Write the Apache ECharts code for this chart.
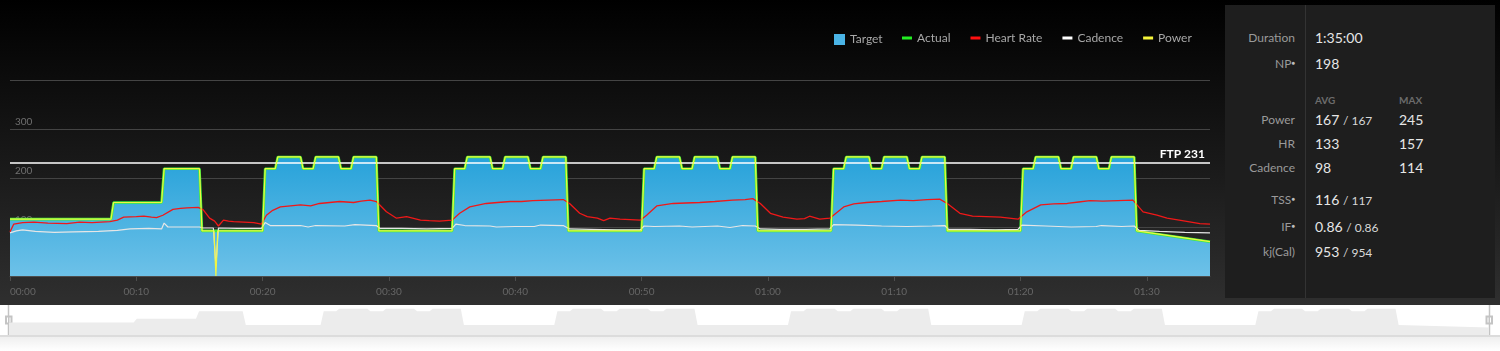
<!DOCTYPE html>
<html>
<head>
<meta charset="utf-8">
<script src="https://cdn.jsdelivr.net/npm/echarts@6.0.0/dist/echarts.min.js"></script>
<style>
  body { margin: 0; width: 1500px; height: 351px; overflow: hidden; background: #fff; font-family: Lato, sans-serif; position: relative; }
  #bg { position: absolute; left: 0; top: 0; width: 1500px; height: 305px; background: linear-gradient(#000, #2f2f2f); }
  #zoomBase { position: absolute; left: 0; top: 335px; width: 1500px; height: 2px; background: #dcdcdc; }
  #zoomShade { position: absolute; left: 0; top: 337px; width: 1500px; height: 14px; background: linear-gradient(#efefef, #fff); }
  #chart { position: absolute; left: 0; top: 0; width: 1500px; height: 351px; }
  #stats { position: absolute; left: 1225px; top: 5px; width: 270px; height: 293px; background: #1e1e1e; }
  #stats .sep { position: absolute; left: 80px; top: 0; width: 1px; height: 293px; background: #333; }
  #stats .lb { position: absolute; right: 200px; font-size: 12px; line-height: 16px; color: #9a9a9a; text-align: right; white-space: nowrap; }
  #stats .v { position: absolute; font-size: 14px; line-height: 16px; color: #e6e6e6; white-space: nowrap; }
  #stats .v small { font-size: 12px; color: #d8d8d8; }
  #stats .hd { position: absolute; font-size: 10px; line-height: 12px; font-weight: bold; color: #6c6c6c; }
  #stats sup { font-size: 6px; vertical-align: top; position: relative; top: -1px; color: #bdbdbd; }
</style>
</head>
<body>
<div id="bg"></div>
<div id="zoomBase"></div>
<div id="zoomShade"></div>
<div id="chart"></div>
<div id="stats">
  <div class="sep"></div>
  <div class="lb" style="top:25px">Duration</div><div class="v" style="left:90px;top:25px">1:35:00</div>
  <div class="lb" style="top:51px">NP<sup>●</sup></div><div class="v" style="left:90px;top:51px">198</div>
  <div class="hd" style="left:90px;top:89px">AVG</div><div class="hd" style="left:174px;top:89px">MAX</div>
  <div class="lb" style="top:107px">Power</div><div class="v" style="left:90px;top:107px">167 <small>/ 167</small></div><div class="v" style="left:174px;top:107px">245</div>
  <div class="lb" style="top:131px">HR</div><div class="v" style="left:90px;top:131px">133</div><div class="v" style="left:174px;top:131px">157</div>
  <div class="lb" style="top:155px">Cadence</div><div class="v" style="left:90px;top:155px">98</div><div class="v" style="left:174px;top:155px">114</div>
  <div class="lb" style="top:187px">TSS<sup>●</sup></div><div class="v" style="left:90px;top:187px">116 <small>/ 117</small></div>
  <div class="lb" style="top:214px">IF<sup>●</sup></div><div class="v" style="left:90px;top:214px">0.86 <small>/ 0.86</small></div>
  <div class="lb" style="top:239px">kj(Cal)</div><div class="v" style="left:90px;top:239px">953 <small>/ 954</small></div>
</div>
<script type="text/javascript">
  // 目标功率：每段开始分钟 + 瓦数
  const targetMin = [0, 8, 12, 15, 20, 21, 23, 24, 26, 27, 29, 35, 36, 38, 39, 41, 42, 44, 50, 51, 53, 54, 56, 57, 59, 65, 66, 68, 69, 71, 72, 74, 80, 81, 83, 84, 86, 87, 89]
  const targetW = [116, 150, 219, 92, 219, 243, 219, 243, 219, 243, 92, 219, 243, 219, 243, 219, 243, 92, 219, 243, 219, 243, 219, 243, 92, 219, 243, 219, 243, 219, 243, 92, 219, 243, 219, 243, 219, 243, 92]
  const targetEnd = [95, 70]
  const ftp = 231
  // 功率掉到0的那一下
  const powerDip = [[16.15, 92], [16.3, 0], [16.45, 92]]
  const heartRate = [[0,90],[0.3,106],[1,109],[1.9,110],[3,108],[4.5,107],[5.5,110],[6.5,109],[7.9,111],[8.5,114],[9,120],[10,121],[10.6,122],[11.2,120],[11.6,119],[12.1,124],[12.9,136],[13.5,138],[14,139],[14.9,140],[15.3,135],[15.8,118],[16.2,112],[16.5,102],[16.9,114],[17.3,112],[17.7,111],[18.5,110],[19.3,109],[19.9,106],[20.3,124],[20.8,134],[21.4,141],[22.2,143],[23,145],[23.8,143],[24.5,148],[25.3,150],[26.1,152],[27.2,150],[27.8,153],[28.5,155],[29,152],[29.8,131],[30.6,118],[31.4,121],[32.5,114],[33.2,113],[34,112],[35,114],[35.6,128],[36.4,141],[37.7,148],[38.6,150],[39.6,152],[40.5,152],[41.4,154],[42.6,155],[43.8,156],[44.3,148],[45.1,128],[45.7,121],[46.5,118],[47,113],[47.5,118],[48.3,116],[49.1,115],[49.9,114],[50.4,124],[51.2,143],[52.5,148],[53.5,149],[54.6,150],[55.8,152],[57.2,155],[58.2,156],[58.8,158],[59.4,148],[60.2,128],[61.2,120],[62.3,116],[62.9,117],[63.3,122],[64.1,116],[64.9,118],[66,141],[66.8,147],[67.8,150],[69,152],[70.5,155],[71.5,154],[72.6,156],[73.6,157],[74.2,148],[75.2,128],[76.2,122],[77.3,121],[78.4,120],[79.1,118],[79.8,116],[80.5,131],[81.6,145],[82.6,147],[83.7,148],[84.6,151],[85.5,154],[86.5,153],[87.7,154],[88.9,155],[89.7,131],[90.8,124],[91.6,118],[92.8,113],[94.2,107],[95,106]]
  const cadence = [[0,88],[0.5,92],[1,94],[2,91],[3.5,89],[5,90],[7,91],[8.5,93],[9.5,96],[11,97],[12,96],[12.2,108],[12.5,100],[14,100],[15,100],[15.3,98],[16.1,98],[16.3,20],[16.5,98],[18,97],[19.9,97],[20.2,109],[20.6,103],[23,103],[23.6,100],[24.2,103],[26.5,102],[27.3,105],[29,103],[29.3,97],[31,97],[33,96],[35,97],[35.3,106],[36,103],[38,102],[38.5,100],[40,101],[41.5,101],[42,104],[43.8,103],[44.3,96],[46,95],[48,94],[49.9,94],[50.2,102],[51,101],[53,102],[54,100],[56,102],[57,99],[58,103],[59,102],[59.4,96],[61,95],[63,95],[64.9,96],[65.2,105],[67,104],[69,102],[71,101],[73,102],[74,103],[74.3,95],[76,95],[78,94],[79.8,95],[80.1,104],[82,102],[84,100],[86,101],[86.4,103],[88,101],[89,102],[89.4,93],[91,91],[93,89],[95,88]]
  const xTicks = [0, 10, 20, 30, 40, 50, 60, 70, 80, 90]
  const xTickLabels = ['00:00', '00:10', '00:20', '00:30', '00:40', '00:50', '01:00', '01:10', '01:20', '01:30']
  const yLabels = [100, 200, 300]

  // 台阶 -> 点（边沿有一点点斜）
  let targetPts = []
  targetMin.forEach((t, i) => {
    targetPts.push([i ? t + 0.2 : t, targetW[i]])
    if (i < targetMin.length - 1) targetPts.push([targetMin[i + 1], targetW[i]])
  })
  targetPts.push(targetEnd)
  const powerPts = targetPts.concat(powerDip).sort((a, b) => a[0] - b[0])

  const lineIcon = 'rect'
  let myChart = echarts.init(document.getElementById('chart'))
  myChart.setOption({
    animation: false,
    backgroundColor: 'transparent',
    textStyle: {fontFamily: 'Lato'},
    grid: [
      {left: 10, right: 290, top: 80, bottom: 75, outerBoundsMode: 'none'},
      {left: 9, right: 11, top: 305, bottom: 16, outerBoundsMode: 'none'}
    ],
    legend: [
      {
        left: 834, top: 33.5, padding: 0, itemWidth: 11, itemHeight: 11,
        textStyle: {color: '#a8a8a8', fontSize: 12},
        data: [{name: 'Target', icon: 'rect', itemStyle: {color: '#4ab4e6'}}]
      },
      {
        left: 902, top: 32, padding: 0, itemWidth: 10, itemHeight: 3, itemGap: 20,
        textStyle: {color: '#a8a8a8', fontSize: 12},
        data: [
          {name: 'Actual', icon: lineIcon},
          {name: 'Heart Rate', icon: lineIcon},
          {name: 'Cadence', icon: lineIcon},
          {name: 'Power', icon: lineIcon}
        ]
      }
    ],
    xAxis: [
      {
        type: 'value', min: 0, max: 95, gridIndex: 0,
        axisLine: {lineStyle: {color: '#4d4d4d'}},
        axisTick: {show: true, length: 5, customValues: xTicks, lineStyle: {color: '#4d4d4d'}},
        splitLine: {show: false},
        axisLabel: {
          customValues: xTicks, color: '#666', fontSize: 10, margin: 11, alignMinLabel: 'left',
          formatter: v => xTickLabels[xTicks.indexOf(v)]
        }
      },
      {type: 'value', min: 0, max: 95, gridIndex: 1, show: false}
    ],
    yAxis: [
      {
        type: 'value', min: 0, max: 400, interval: 100, gridIndex: 0,
        axisLine: {show: false}, axisTick: {show: false},
        splitLine: {lineStyle: {color: '#444', width: 1}},
        axisLabel: {
          inside: true, margin: 5, color: '#707070', fontSize: 10,
          verticalAlign: 'bottom', padding: [0, 0, 2, 0],
          formatter: v => yLabels.includes(v) ? String(v) : ''
        }
      },
      {type: 'value', min: 0, max: 277, gridIndex: 1, show: false}
    ],
    series: [
      {
        name: 'Target', type: 'line', data: targetPts, symbol: 'none', z: 1,
        itemStyle: {color: '#4ab4e6'},
        lineStyle: {width: 0},
        areaStyle: {
          opacity: 1,
          color: new echarts.graphic.LinearGradient(0, 0, 0, 1, [
            {offset: 0, color: '#27a2da'},
            {offset: 1, color: '#6dc1e8'}
          ])
        }
      },
      {
        name: 'Actual', type: 'line', data: targetPts, symbol: 'none', z: 3,
        itemStyle: {color: '#22ee22'},
        lineStyle: {width: 2.6, color: '#3cf03c'}
      },
      {
        name: 'Heart Rate', type: 'line', data: heartRate, symbol: 'none', z: 4,
        itemStyle: {color: '#ff1010'},
        lineStyle: {width: 1.3, color: '#f01818'}
      },
      {
        name: 'Cadence', type: 'line', data: cadence, symbol: 'none', z: 4,
        itemStyle: {color: '#ffffff'},
        lineStyle: {width: 1.2, color: '#e6e6e6'}
      },
      {
        name: 'Power', type: 'line', data: powerPts, symbol: 'none', z: 5,
        itemStyle: {color: '#f5f53a'},
        lineStyle: {width: 1.2, color: '#f2f542'},
        markLine: {
          silent: true, symbol: ['none', 'none'],
          lineStyle: {color: '#ffffff', width: 1.5, type: 'solid'},
          label: {
            position: 'insideEndTop', formatter: 'FTP ' + ftp,
            color: '#fff', fontWeight: 'bold', fontSize: 12, distance: [5, 3]
          },
          data: [{yAxis: ftp}]
        }
      },
      {
        name: 'zoomShadow', type: 'line', data: targetPts, symbol: 'none',
        xAxisIndex: 1, yAxisIndex: 1, silent: true,
        lineStyle: {width: 0},
        areaStyle: {opacity: 1, color: '#ececec'}
      }
    ],
    // 下面拖动条的两个把手
    graphic: [
      {type: 'line', shape: {x1: 8.5, y1: 305, x2: 8.5, y2: 335}, style: {stroke: '#c4c4c4', lineWidth: 1.5}},
      {type: 'rect', shape: {x: 5, y: 315.5, width: 7.5, height: 9}, style: {fill: '#c4c4c4'}},
      {type: 'line', shape: {x1: 7.5, y1: 317.5, x2: 7.5, y2: 322.5}, style: {stroke: '#fff', lineWidth: 1}},
      {type: 'line', shape: {x1: 10, y1: 317.5, x2: 10, y2: 322.5}, style: {stroke: '#fff', lineWidth: 1}},
      {type: 'line', shape: {x1: 1489.5, y1: 305, x2: 1489.5, y2: 335}, style: {stroke: '#c4c4c4', lineWidth: 1.5}},
      {type: 'rect', shape: {x: 1485.5, y: 315.5, width: 7.5, height: 9}, style: {fill: '#c4c4c4'}},
      {type: 'line', shape: {x1: 1488, y1: 317.5, x2: 1488, y2: 322.5}, style: {stroke: '#fff', lineWidth: 1}},
      {type: 'line', shape: {x1: 1490.5, y1: 317.5, x2: 1490.5, y2: 322.5}, style: {stroke: '#fff', lineWidth: 1}}
    ]
  })
</script>
</body>
</html>
